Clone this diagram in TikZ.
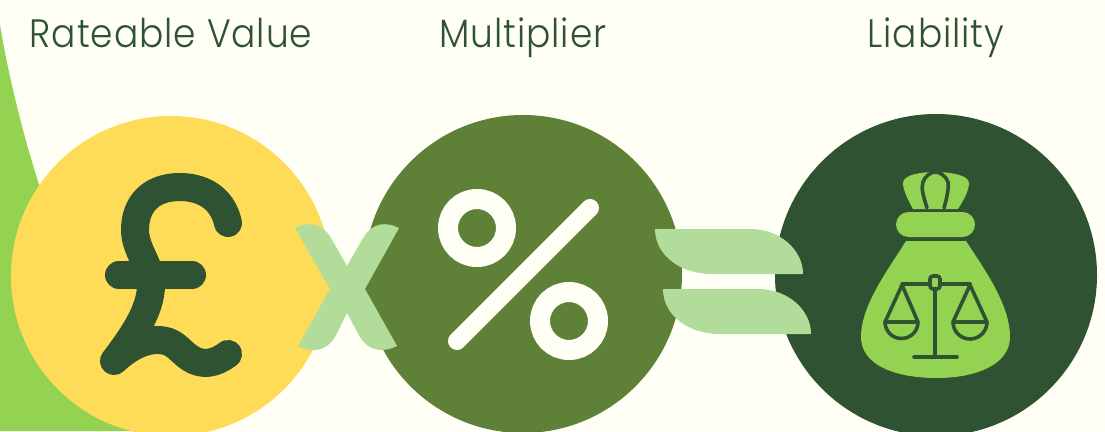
\documentclass[tikz,border=0pt]{standalone}
\usepackage{fontspec}
\setmainfont{Poppins Light}[LetterSpace=2.6]
\definecolor{bgc}{HTML}{FFFFF5}
\definecolor{yel}{HTML}{FFDC58}
\definecolor{mid}{HTML}{5F8137}
\definecolor{dark}{HTML}{2F5233}
\definecolor{lime}{HTML}{94D351}
\definecolor{pale}{HTML}{B1DC9A}
\newcommand{\tall}[1]{\scalebox{1}[1.1]{#1}}
\tikzset{
 lab/.style={text=dark,anchor=base,font=\fontsize{36}{40}\selectfont,inner sep=0pt},
 glyph/.style={draw=dark,line width=28pt,line cap=round,line join=round},
 pct/.style={draw=bgc,line cap=round},
 thin/.style={draw=dark,line width=3.6pt,line cap=round,line join=round},
}
\begin{document}
\begin{tikzpicture}[x=1pt,y=-1pt]
\useasboundingbox (0,0) rectangle (1105,431);
\fill[bgc] (0,0) rectangle (1105,431);
\fill[lime] (0,25) .. controls (10,85) and (30,165) .. (55,230) .. controls (75,300) and (100,385) .. (135,431) -- (0,431) -- cycle;
\begin{scope}
\clip (0,0) rectangle (1105,431);
\fill[yel] (171,276) circle (160);
\fill[mid] (523,274) circle (159);
\fill[dark] (936,275) circle (161);
\end{scope}
\node[lab] (rv) at (171,47) {\tall{Rateable Value}};
\node[lab] (mu) at (523,47) {\tall{Multiplier}};
\node[lab] (li) at (936,47) {\tall{Liability}};
% pound
\draw[glyph] (228,223) .. controls (222,196) and (200,187) .. (180,187) .. controls (150,187) and (135,205) .. (135,230) .. controls (135,250) and (151,265) .. (151,285) .. controls (151,310) and (133,336) .. (114,361) .. controls (130,346) and (145,340) .. (157,340) .. controls (175,340) and (178,350) .. (190,358) .. controls (202,366) and (215,364) .. (228,354);
\draw[glyph] (119,275) -- (192,275);
% percent
\draw[pct,line width=20pt] (477,228) circle (29);
\draw[pct,line width=20pt] (569,321) circle (29);
\draw[pct,line width=18pt] (590,208) -- (457,341);
% times
\fill[pale] (295,228) .. controls (305,223) and (320,220) .. (331,238) -- (347,266) -- (363,238) .. controls (374,220) and (389,223) .. (399,228) -- (365,289) -- (397,346) .. controls (385,352) and (370,353) .. (360,337) -- (347,313) -- (335,337) .. controls (325,353) and (310,352) .. (298,346) -- (330,289) -- cycle;
% equals
\fill[pale] (655,229) -- (750,229) .. controls (780,229) and (803,250) .. (803,274) -- (712,274) .. controls (680,274) and (655,255) .. (655,229) -- cycle;
\fill[pale] (663,289) -- (758,289) .. controls (788,289) and (811,310) .. (811,334) -- (720,334) .. controls (688,334) and (663,315) .. (663,289) -- cycle;
% bag
\fill[lime] (913,209) .. controls (908,200) and (903,190) .. (903,183) .. controls (903,175) and (920,172) .. (935,172) .. controls (950,172) and (969,175) .. (969,183) .. controls (969,190) and (964,200) .. (958,209) -- cycle;
\draw[thin] (927,208) .. controls (923,195) and (921,188) .. (923,182) .. controls (925,176) and (931,172) .. (935,172) .. controls (940,172) and (946,176) .. (948,182) .. controls (949,188) and (947,197) .. (944,208);
\fill[lime,rounded corners=12.5pt] (896,212) rectangle (975,237);
\fill[lime] (906,241) -- (966,241) .. controls (985,270) and (1010,305) .. (1010,337) .. controls (1010,365) and (975,378) .. (937,378) .. controls (895,378) and (861,365) .. (861,337) .. controls (861,305) and (888,270) .. (906,241) -- cycle;
\draw[thin] (902,284) -- (970,284);
\draw[thin] (935,290) -- (935,357);
\draw[thin] (914,357) -- (957,357);
\draw[thin,fill=lime,rounded corners=3pt] (930,276) rectangle (940,289);
\draw[thin] (902,285) -- (885,322) -- (918,322) -- cycle;
\draw[thin] (885,322) arc[start angle=180,end angle=0,radius=16.5];
\draw[thin] (970,285) -- (953,322) -- (987,322) -- cycle;
\draw[thin] (953,322) arc[start angle=180,end angle=0,radius=17];
\end{tikzpicture}
\end{document}
